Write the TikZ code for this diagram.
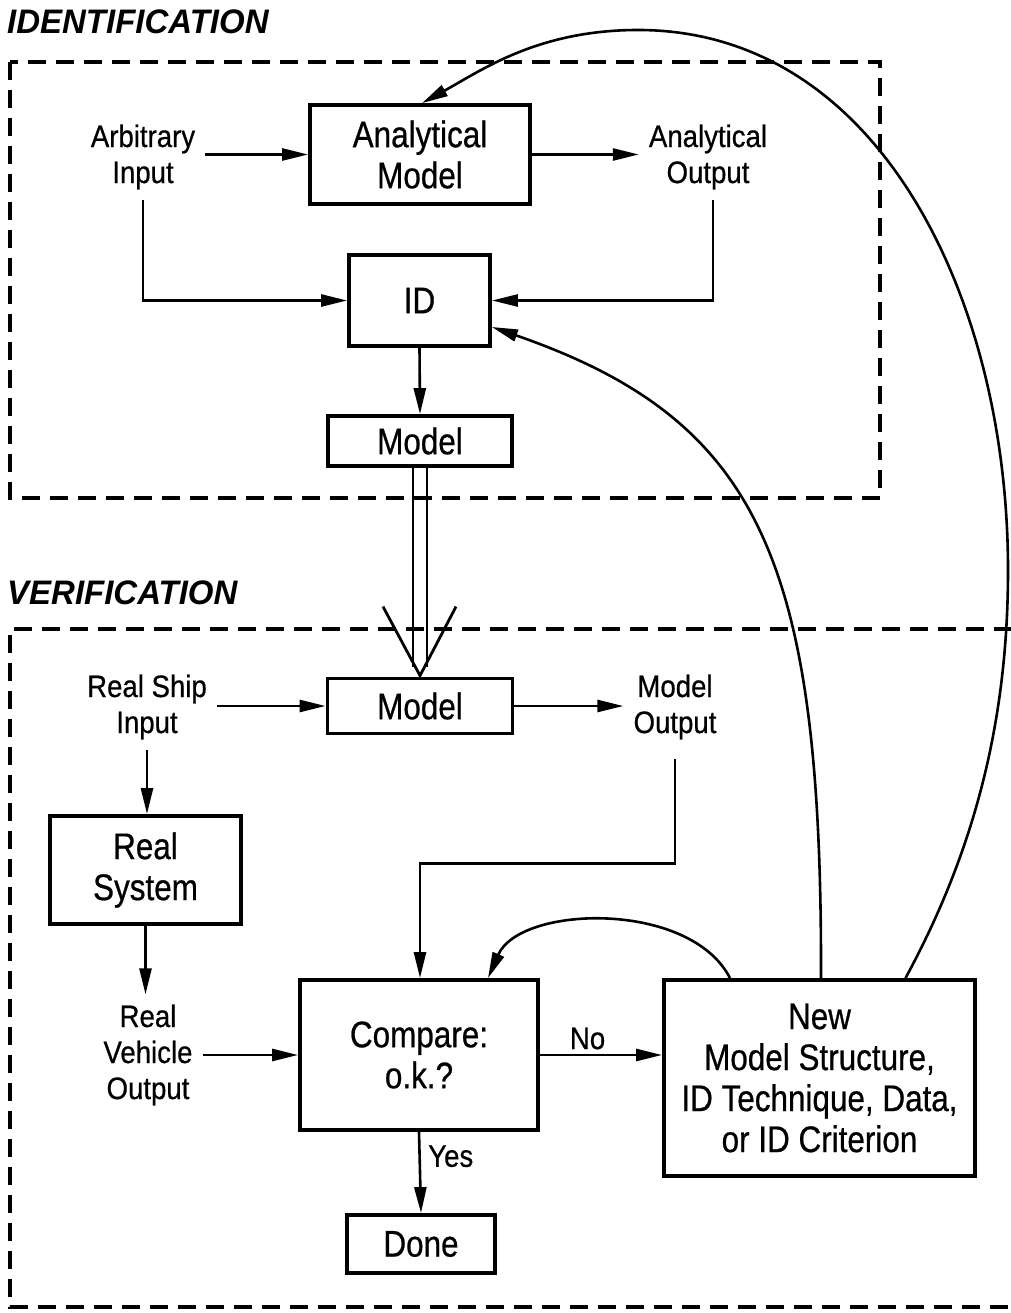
\documentclass[tikz,border=0pt]{standalone}
\usepackage{fontspec}
\setmainfont{Liberation Sans}[FakeStretch=0.85,FakeBold=0.6]
\newfontfamily\labf{Liberation Sans}[FakeStretch=0.89,FakeBold=0.6]
\newfontfamily\titf{Liberation Sans}[FakeStretch=0.97]
\usetikzlibrary{arrows.meta,calc}
\begin{document}
\begin{tikzpicture}[x=1pt,y=-1pt,
  box/.style={draw, line width=3.8pt, inner sep=0pt, align=center, font=\fontsize{37}{41}\selectfont},
  lab/.style={inner sep=10pt, align=center, font=\labf\fontsize{31}{36}\selectfont},
  arr/.style={line width=2.6pt, -{Triangle[length=26pt,width=12pt]}},
  dbox/.style={line width=3.8pt, dash pattern=on 18pt off 10pt},
  ttl/.style={anchor=west, inner sep=0pt, font=\titf\bfseries\itshape\fontsize{34}{36}\selectfont}
]
\useasboundingbox (0,0) rectangle (1010,1313);
\fill[white] (0,0) rectangle (1010,1313);

% titles
\node[ttl] (t1) at (7,22) {IDENTIFICATION};
\node[ttl] (t2) at (7,593) {VERIFICATION};

% dashed frames
\draw[dbox] (10,62) rectangle (880,498);
\draw[dbox] (1012,629) -- (10,629) -- (10,1307) -- (1012,1307);

% identification part
\node[box, minimum width=220, minimum height=99] (am) at (420,154.5) {Analytical\\Model};
\node[lab] (ain) at (143,157) {Arbitrary\\Input};
\node[lab] (aout) at (708,157) {Analytical\\Output};
\node[box, minimum width=141, minimum height=91] (id) at (419.5,300.5) {ID};
\node[box, minimum width=184, minimum height=50] (m1) at (420,441) {Model};

% verification part
\node[box, minimum width=185, minimum height=55] (m2) at (420,706) {Model};
\node[lab] (rsi) at (147,707) {Real Ship\\Input};
\node[lab] (mout) at (675,707) {Model\\Output};
\node[box, minimum width=191, minimum height=108] (rs) at (145.5,870) {Real\\System};
\node[lab] (rvo) at (148,1055) {Real\\Vehicle\\Output};
\node[box, minimum width=238, minimum height=150] (cmp) at (419,1055) {Compare:\\o.k.?};
\node[box, minimum width=311, minimum height=196] (new) at (819.5,1078) {New\\Model Structure,\\ID Technique, Data,\\or ID Criterion};
\node[box, minimum width=148, minimum height=58] (done) at (421,1244) {Done};

% connectors (identification)
\draw[arr] (am.west -| ain.east) -- (am.west);
\draw[arr] (am.east) -- (am.east -| aout.west);
\draw[arr] (ain.south) |- (id.west);
\draw[arr] ([xshift=5pt]aout.south) |- (id.east);
\draw[arr] (id.south) -- (m1.north);

% double arrow Model -> Model
\draw[line width=2.8pt] ([xshift=-7pt]m1.south) -- ([xshift=-7pt,yshift=10pt]m2.north);
\draw[line width=2.8pt] ([xshift=7pt]m1.south) -- ([xshift=7pt,yshift=10pt]m2.north);
\draw[line width=2.8pt] ([xshift=-37pt,yshift=70pt]m2.north) -- ([yshift=1pt]m2.north) -- ([xshift=36pt,yshift=70pt]m2.north);

% connectors (verification)
\draw[arr] (m2.west -| rsi.east) -- (m2.west);
\draw[arr] (m2.east) -- (m2.east -| mout.west);
\draw[arr] (rsi.south) -- (rsi.south |- rs.north);
\draw[arr] (rs.south) -- (rs.south |- rvo.north);
\draw[arr] (rvo.east) -- (rvo.east -| cmp.west);
\draw[arr] ([yshift=-9pt]mout.south) -- ++(0,105) -| ([xshift=1pt]cmp.north);
\draw[arr] (rvo.east -| cmp.east) -- (rvo.east -| new.west)
  node[pos=0.39, above=1pt, font=\labf\fontsize{31}{36}\selectfont] {No};
\draw[arr] (cmp.south) -- (done.north)
  node[pos=0.3, right=4pt, font=\labf\fontsize{31}{36}\selectfont] {Yes};

% feedback curves
\draw[arr] ([xshift=-89.5pt]new.north) .. controls (690,900) and (520,905) .. ([xshift=69pt]cmp.north);
\draw[arr] ([xshift=1.5pt]new.north) .. controls (822,560) and (760,420) .. ([yshift=-26.5pt]id.east);
\draw[arr] ([xshift=86pt]new.north) .. controls (975,850) and (1008,720) .. (1008,570)
  .. controls (1008,300) and (880,30) .. (638,30)
  .. controls (538,30) and (482,70) .. ([xshift=2pt]am.north);
\end{tikzpicture}
\end{document}
